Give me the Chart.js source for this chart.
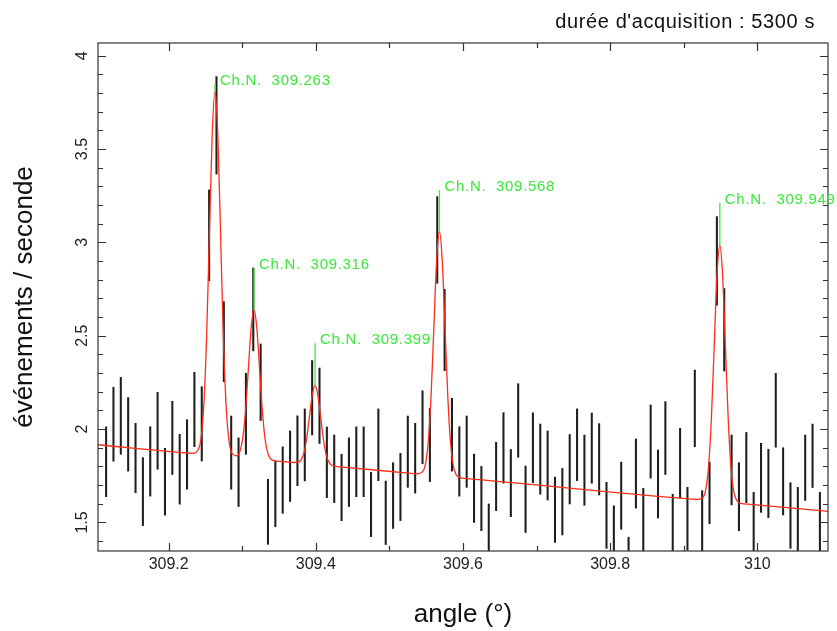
<!DOCTYPE html>
<html>
<head>
<meta charset="utf-8">
<script src="https://cdn.jsdelivr.net/npm/chart.js@4.4.0/dist/chart.umd.min.js"></script>
<style>
  html, body { margin: 0; padding: 0; background: #fff; }
  #wrap { width: 837px; height: 631px; }
</style>
</head>
<body>
<div id="wrap"><canvas id="chart" width="837" height="631"></canvas></div>
<script>
// measured points, one per 0.01 degree bin
const angles = [
  309.115, 309.125, 309.135, 309.145, 309.155, 309.165, 309.175, 309.185, 309.195, 309.205,
  309.215, 309.225, 309.235, 309.245, 309.255, 309.265, 309.275, 309.285, 309.295, 309.305,
  309.315, 309.325, 309.335, 309.345, 309.355, 309.365, 309.375, 309.385, 309.395, 309.405,
  309.415, 309.425, 309.435, 309.445, 309.455, 309.465, 309.475, 309.485, 309.495, 309.505,
  309.515, 309.525, 309.535, 309.545, 309.555, 309.565, 309.575, 309.585, 309.595, 309.605,
  309.615, 309.625, 309.635, 309.645, 309.655, 309.665, 309.675, 309.685, 309.695, 309.705,
  309.715, 309.725, 309.735, 309.745, 309.755, 309.765, 309.775, 309.785, 309.795, 309.805,
  309.815, 309.825, 309.835, 309.845, 309.855, 309.865, 309.875, 309.885, 309.895, 309.905,
  309.915, 309.925, 309.935, 309.945, 309.955, 309.965, 309.975, 309.985, 309.995, 310.005,
  310.015, 310.025, 310.035, 310.045, 310.055, 310.065, 310.075, 310.085
]
const rates = [
  1.825, 2.026, 2.071, 1.972, 1.845, 1.665, 1.827, 1.991, 1.718, 1.953,
  1.785, 1.864, 2.105, 2.028, 3.038, 3.627, 2.468, 1.874, 1.769, 2.082,
  2.641, 2.251, 1.557, 1.653, 1.727, 1.801, 1.884, 1.915, 2.168, 2.125,
  1.822, 1.787, 1.687, 1.769, 1.825, 1.825, 1.596, 1.916, 1.552, 1.644,
  1.690, 1.879, 1.844, 2.010, 1.915, 3.013, 2.531, 1.970, 1.827, 1.879,
  1.683, 1.628, 1.434, 1.746, 1.899, 1.711, 2.046, 1.624, 1.900, 1.839,
  1.805, 1.568, 1.611, 1.785, 1.916, 1.780, 1.898, 1.838, 1.538, 1.426,
  1.643, 1.261, 1.762, 1.513, 1.933, 1.706, 1.952, 1.483, 1.817, 1.520,
  2.111, 1.502, 1.658, 2.901, 2.532, 1.781, 1.638, 1.794, 1.493, 1.739,
  1.709, 2.101, 1.720, 1.537, 1.518, 1.793, 1.857, 1.493
]
const errors = [
  0.187, 0.198, 0.206, 0.197, 0.186, 0.182, 0.186, 0.206, 0.179, 0.196,
  0.187, 0.186, 0.199, 0.199, 0.243, 0.261, 0.214, 0.196, 0.184, 0.217,
  0.222, 0.205, 0.174, 0.176, 0.178, 0.189, 0.187, 0.193, 0.199, 0.202,
  0.189, 0.181, 0.178, 0.184, 0.187, 0.187, 0.172, 0.192, 0.170, 0.176,
  0.180, 0.191, 0.187, 0.195, 0.196, 0.232, 0.218, 0.195, 0.186, 0.191,
  0.183, 0.172, 0.165, 0.183, 0.189, 0.180, 0.197, 0.178, 0.187, 0.188,
  0.185, 0.175, 0.178, 0.186, 0.192, 0.188, 0.188, 0.191, 0.177, 0.163,
  0.180, 0.160, 0.185, 0.170, 0.196, 0.182, 0.195, 0.168, 0.187, 0.168,
  0.205, 0.168, 0.165, 0.237, 0.221, 0.187, 0.182, 0.188, 0.168, 0.185,
  0.183, 0.198, 0.180, 0.176, 0.170, 0.175, 0.170, 0.168
]

// red fitted curve
const fitAngles = [
  309.104, 309.225, 309.2326,
  309.2402, 309.244, 309.2478, 309.2516, 309.2554, 309.2592, 309.263, 309.2668, 309.2706, 309.2744, 309.2782, 309.282, 309.2858,
  309.2932, 309.297, 309.3008, 309.3046, 309.3084, 309.3122, 309.316, 309.3198, 309.3236, 309.3274, 309.3312, 309.335, 309.3388,
  309.3464, 309.354, 309.361, 309.3686,
  309.3762, 309.38, 309.3838, 309.3876, 309.3914, 309.3952, 309.399, 309.4028, 309.4066, 309.4104, 309.4142, 309.418, 309.4218,
  309.4294, 309.437, 309.53, 309.5376,
  309.5452, 309.549, 309.5528, 309.5566, 309.5604, 309.5642, 309.568, 309.5718, 309.5756, 309.5794, 309.5832, 309.587, 309.5908,
  309.5984, 309.606, 309.911, 309.9186,
  309.9262, 309.93, 309.9338, 309.9376, 309.9414, 309.9452, 309.949, 309.9528, 309.9566, 309.9604, 309.9642, 309.968, 309.9718,
  309.9794, 309.987, 310.096
]
const fitValues = [
  1.916, 1.872, 1.870,
  1.889, 1.951, 2.128, 2.495, 3.043, 3.579, 3.807, 3.577, 3.038, 2.487, 2.117, 1.938, 1.872,
  1.857, 1.882, 1.953, 2.103, 2.326, 2.545, 2.638, 2.543, 2.321, 2.095, 1.942, 1.868, 1.840,
  1.829, 1.826, 1.824, 1.821,
  1.823, 1.835, 1.872, 1.951, 2.068, 2.184, 2.232, 2.181, 2.063, 1.943, 1.861, 1.822, 1.806,
  1.799, 1.796, 1.763, 1.760,
  1.772, 1.813, 1.932, 2.178, 2.545, 2.905, 3.057, 2.902, 2.540, 2.170, 1.921, 1.800, 1.755,
  1.738, 1.735, 1.625, 1.623,
  1.635, 1.679, 1.803, 2.062, 2.448, 2.826, 2.986, 2.823, 2.442, 2.054, 1.792, 1.665, 1.619,
  1.601, 1.598, 1.559
]

// green peak markers
const peakAngles = [309.263, 309.316, 309.399, 309.568, 309.949]
const peakLabels = ['309.263', '309.316', '309.399', '309.568', '309.949']
const peakHeights = [3.807, 2.638, 2.232, 3.057, 2.986]
const peakTops = [3.848, 2.863, 2.460, 3.281, 3.211]

const xTickLabels = ['309.2', '309.4', '309.6', '309.8', '310']
const yTickLabels = ['1.5', '2', '2.5', '3', '3.5', '4']

const headerText = "durée d'acquisition : 5300 s"
const FONT = '"Liberation Sans", Arial, Helvetica, sans-serif'
const GREEN = '#3be83b'

const overlay = {
  id: 'overlay',
  afterDraw(chart){
    const { ctx, chartArea: a, scales: { x, y } } = chart
    ctx.save()

    // frame + inward ticks
    ctx.strokeStyle = '#333'
    ctx.lineWidth = 1.2
    ctx.strokeRect(a.left, a.top, a.right - a.left, a.bottom - a.top)
    ctx.beginPath()
    for (let i = 14; i <= 40; i++){
      const py = Math.round(y.getPixelForValue(i / 10)) + 0.5
      const len = i % 5 === 0 ? 8 : 5
      ctx.moveTo(a.left, py); ctx.lineTo(a.left + len, py)
      ctx.moveTo(a.right, py); ctx.lineTo(a.right - len, py)
    }
    for (let i = 3092; i <= 3100; i++){
      const px = Math.round(x.getPixelForValue(i / 10)) + 0.5
      const len = i % 2 === 0 ? 8 : 5
      ctx.moveTo(px, a.bottom); ctx.lineTo(px, a.bottom - len)
      ctx.moveTo(px, a.top); ctx.lineTo(px, a.top + len)
    }
    ctx.stroke()

    // peak labels
    ctx.fillStyle = GREEN
    ctx.font = '15px ' + FONT
    ctx.letterSpacing = '0.7px'
    ctx.textAlign = 'left'
    ctx.textBaseline = 'alphabetic'
    peakAngles.forEach((ang, i) => {
      const px = x.getPixelForValue(ang)
      const py = y.getPixelForValue(peakTops[i])
      ctx.fillText('Ch.N.  ' + peakLabels[i], px + 5, py + 1)
    })

    // header
    ctx.fillStyle = '#111'
    ctx.font = '20px ' + FONT
    ctx.letterSpacing = '0.6px'
    ctx.textAlign = 'right'
    ctx.fillText(headerText, 815, 28)
    ctx.restore()
  }
}

const markerSets = peakAngles.map((ang, i) => ({
  type: 'line',
  data: [{ x: ang, y: peakHeights[i] }, { x: ang, y: peakTops[i] }],
  borderColor: GREEN,
  borderWidth: 1.3,
  pointRadius: 0,
  clip: 0,
  order: 0,
}))

new Chart(document.getElementById('chart'), {
  type: 'bar',
  data: {
    datasets: [
      ...markerSets,
      {
        type: 'line',
        data: fitAngles.map((a, i) => ({ x: a, y: fitValues[i] })),
        borderColor: 'rgb(255,45,25)',
        borderWidth: 1.3,
        pointRadius: 0,
        cubicInterpolationMode: 'monotone',
        clip: 0,
        order: 1,
      },
      {
        type: 'bar',
        data: angles.map((a, i) => ({ x: a, y: [rates[i] - errors[i], rates[i] + errors[i]] })),
        backgroundColor: '#1e1e1e',
        borderWidth: 0,
        barThickness: 1.4,
        clip: 0,
        order: 2,
      },
    ]
  },
  options: {
    responsive: false,
    animation: false,
    layout: { padding: { top: 43, right: 9, left: 0, bottom: 0 } },
    plugins: { legend: { display: false }, tooltip: { enabled: false }, title: { display: false } },
    scales: {
      x: {
        type: 'linear',
        offset: false,
        min: 309.104,
        max: 310.096,
        grid: { display: false, drawTicks: false },
        border: { display: false },
        ticks: {
          stepSize: 0.2,
          includeBounds: false,
          padding: 4,
          color: '#222',
          font: { family: FONT, size: 16 },
          maxRotation: 0,
          autoSkip: false,
          callback: (v) => {
            const s = String(+v.toFixed(1))
            return xTickLabels.includes(s) ? s : ''
          },
        },
        title: { display: true, text: 'angle (°)', color: '#111', font: { family: FONT, size: 26 }, padding: { top: 0, bottom: 1 } },
        afterFit: (s) => { s.height = 80 },
      },
      y: {
        min: 1.347,
        max: 4.068,
        grid: { display: false, drawTicks: false },
        border: { display: false },
        ticks: {
          stepSize: 0.5,
          includeBounds: false,
          padding: 4,
          minRotation: 90,
          maxRotation: 90,
          crossAlign: 'center',
          color: '#222',
          font: { family: FONT, size: 16 },
          callback: (v) => {
            const s = String(+v.toFixed(1))
            return yTickLabels.includes(s) ? s : ''
          },
        },
        title: { display: true, text: 'événements / seconde', color: '#111', font: { family: FONT, size: 26 }, padding: { top: 9, bottom: 0 } },
        afterFit: (s) => { s.width = 98 },
      },
    },
  },
  plugins: [overlay],
})
</script>
</body>
</html>
